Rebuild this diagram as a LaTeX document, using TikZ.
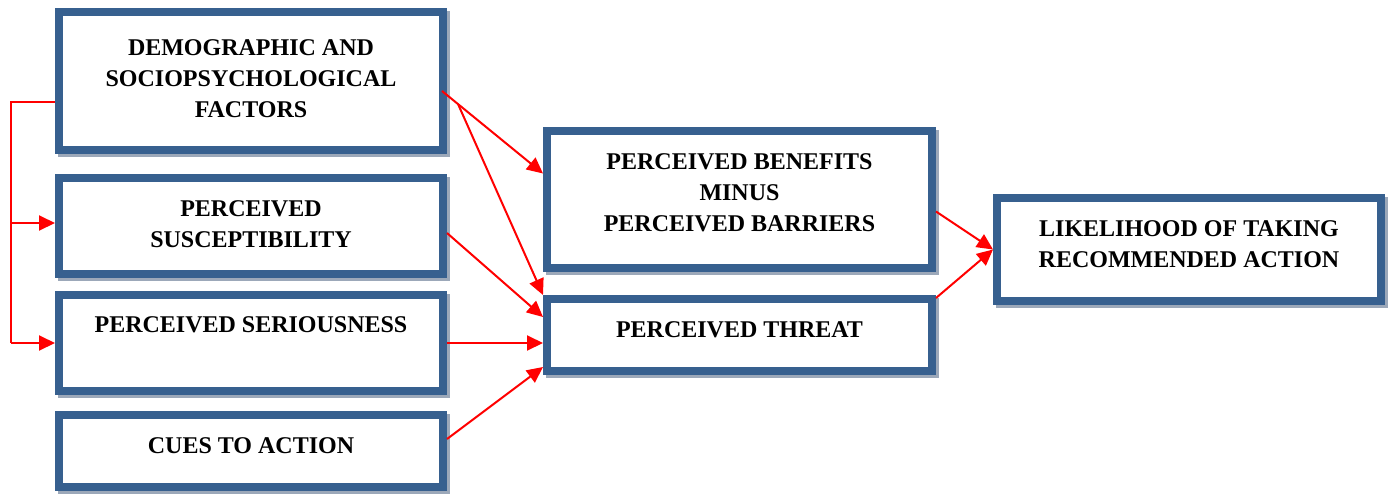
\documentclass[tikz,border=0pt]{standalone}
\usepackage{fontspec}
\setmainfont{Liberation Serif}
\usetikzlibrary{arrows.meta,backgrounds}
\definecolor{boxblue}{HTML}{37608F}
\definecolor{boxshade}{HTML}{9CA8B9}
\definecolor{linkred}{HTML}{FF0000}
\tikzset{
  factor/.style={draw=boxblue, line width=8pt, fill=white, inner sep=0pt},
  caption/.style={align=center, inner sep=0pt,
    font=\bfseries\fontsize{24}{31}\selectfont},
  link/.style={draw=linkred, line width=2pt,
    -{Triangle[length=16pt,width=15pt]}},
  bracket/.style={draw=linkred, line width=1.5pt},
}
% drop shade behind a box, offset down and right
\newcommand{\boxshade}[1]{%
  \fill[boxshade] ([xshift=3pt,yshift=-3pt]#1.north west)
    rectangle ([xshift=3pt,yshift=-3pt]#1.south east);}
\begin{document}
\begin{tikzpicture}[x=1pt,y=-1pt]
\useasboundingbox (0,0) rectangle (1393,493);

% left column
\node[factor, minimum width=384pt, minimum height=138pt,
  label={[caption, yshift=2pt]center:DEMOGRAPHIC AND\\SOCIOPSYCHOLOGICAL\\FACTORS}]
  (demo) at (251,81) {};
\node[factor, minimum width=384pt, minimum height=96pt,
  label={[caption, yshift=2pt]center:PERCEIVED\\SUSCEPTIBILITY}]
  (susc) at (251,226) {};
\node[factor, minimum width=384pt, minimum height=96pt,
  label={[caption, yshift=18pt]center:PERCEIVED SERIOUSNESS}]
  (seri) at (251,343) {};
\node[factor, minimum width=384pt, minimum height=72pt,
  label={[caption, yshift=5pt]center:CUES TO ACTION}]
  (cues) at (251,451) {};

% middle column
\node[factor, minimum width=385pt, minimum height=137pt,
  label={[caption, yshift=7pt]center:PERCEIVED BENEFITS\\MINUS\\PERCEIVED BARRIERS}]
  (bene) at (739.5,199.5) {};
\node[factor, minimum width=385pt, minimum height=72pt,
  label={[caption, yshift=5pt]center:PERCEIVED THREAT}]
  (threat) at (739.5,335) {};

% right column
\node[factor, minimum width=384pt, minimum height=103pt,
  label={[caption, yshift=5pt]center:LIKELIHOOD OF TAKING\\RECOMMENDED ACTION}]
  (action) at (1189,249.5) {};

\begin{scope}[on background layer]
  \foreach \b in {demo,susc,seri,cues,bene,threat,action} {\boxshade{\b}}
\end{scope}

% bracket from the demographic box down the left side
\coordinate (brtop) at (11,102);
\coordinate (brbot) at (11,343);
\draw[bracket] ([yshift=-21pt]demo.west) -- (brtop) -- (brbot);
\draw[link] (brtop |- susc.west) ++(0,-3) -- ([yshift=3pt]susc.west);
\draw[link] (brbot) -- (seri.west);

% links into the middle column
\coordinate (demoout) at (442,91);
\coordinate (fork) at (458,104);
\draw[link] (demoout) -- ([yshift=26pt]bene.west);
\draw[link] (fork) -- (threat.north west);
\draw[link] ([yshift=-7pt]susc.east) -- ([yshift=18pt]threat.west);
\draw[link] (seri.east) -- ([yshift=-8pt]threat.west);
\draw[link] ([yshift=12pt]cues.east) -- ([yshift=-32pt]threat.west);

% links into the action box
\draw[link] ([yshift=-12pt]bene.east) -- (action.west);
\draw[link] ([yshift=37pt]threat.east) -- (action.west);
\end{tikzpicture}
\end{document}
